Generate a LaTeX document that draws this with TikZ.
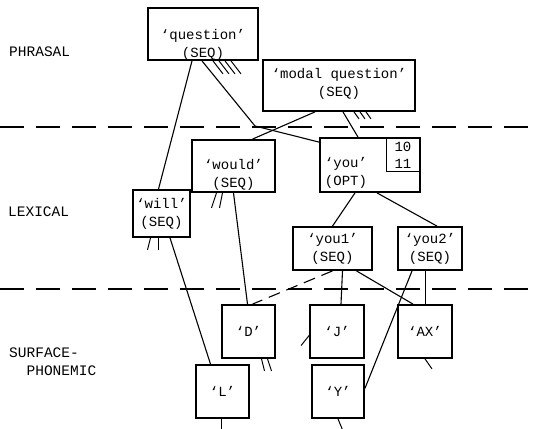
\documentclass[tikz,border=0pt]{standalone}
\usepackage{fontspec}
\newfontfamily\dotfont[Ligatures=TeX]{Liberation Mono}
\usetikzlibrary{positioning}

\begin{document}
\begin{tikzpicture}[
  x=1pt, y=-1pt,
  unit/.style={draw, line width=1.8pt, align=center, inner sep=0pt,
               font=\dotfont\fontsize{14}{18}\selectfont},
  word/.style={align=center, inner sep=0pt, font=\dotfont\fontsize{14}{18}\selectfont},
  link/.style={line width=1.1pt},
  stub/.style={line width=1pt},
  level/.style={line width=1.4pt, dash pattern=on 24pt off 12pt},
  lvl/.style={anchor=west, inner sep=0pt, font=\dotfont\fontsize{14.5}{18}\selectfont}
]
\useasboundingbox (0,0) rectangle (539,429);

% Level boundaries
\coordinate (b1w) at (0,127);
\coordinate (b1e) at (539,127);
\coordinate (b2w) at (0,289);
\coordinate (b2e) at (539,289);
\draw[level] (b1w) -- (b1e);
\draw[level] (b2w) -- (b2e);

\node[lvl] (phrasal) at (9,52) {PHRASAL};
\node[lvl] (lexical) at (8,212) {LEXICAL};
\node[lvl, align=left] (surface) at (9,362) {SURFACE-\\\ \ PHONEMIC};

% Phrasal
\node[unit, minimum width=110pt, minimum height=52pt,
      label={[word, yshift=-11pt]center:{`question'\\(SEQ)}}] (question) at (203,34) {};
\node[unit, minimum width=152pt, minimum height=51pt,
      label={[word, yshift=2pt]center:{`modal question'\\(SEQ)}}] (modal) at (339,85.5) {};

% Lexical
\node[unit, minimum width=83pt, minimum height=52pt,
      label={[word, yshift=-9pt]center:{`would'\\(SEQ)}}] (would) at (233.5,166) {};
\node[unit, minimum width=100pt, minimum height=54pt,
      label={[word, xshift=-24pt, yshift=-8pt]center:{`you'\\(OPT)}}] (you) at (370,165) {};
\node[draw, line width=1.2pt, anchor=north east, minimum width=33pt, minimum height=33pt,
      inner sep=1pt, align=right, font=\dotfont\fontsize{14}{17}\selectfont]
      (youidx) at ([xshift=-0.9pt,yshift=-0.9pt]you.north east) {10\\11};
\node[unit, minimum width=57pt, minimum height=47pt] (will) at (161.5,213.5) {`will'\\(SEQ)};
\node[unit, minimum width=79pt, minimum height=43pt] (you1) at (332.5,248.5) {`you1'\\(SEQ)};
\node[unit, minimum width=64pt, minimum height=43pt] (you2) at (430,248.5) {`you2'\\(SEQ)};

% Surface-phonemic
\node[unit, minimum width=53pt, minimum height=53pt] (D) at (248.5,331.5) {`D'};
\node[unit, minimum width=54pt, minimum height=53pt] (J) at (337,331.5) {`J'};
\node[unit, minimum width=54pt, minimum height=53pt] (AX) at (425,331.5) {`AX'};
\node[unit, minimum width=53pt, minimum height=53pt] (L) at (222.5,391.5) {`L'};
\node[unit, minimum width=52pt, minimum height=53pt] (Y) at (338,391.5) {`Y'};

% Connections
\coordinate (qbend) at (255,126);
\draw[link] ([xshift=-11pt]question.south) -- ([xshift=-3pt]will.north);
\draw[link] ([xshift=-1pt]question.south) -- (qbend) -- ([yshift=-5pt]you.north west);
\draw[link] ([xshift=-24pt]modal.south) -- ([xshift=19pt]would.north);
\draw[link] ([xshift=4pt]modal.south) -- ([xshift=-12pt]you.north);
\draw[link] (would.south) -- ([xshift=-1pt]D.north);
\draw[link] ([xshift=8.5pt]will.south) -- ([xshift=-12pt]L.north);
\draw[link] ([xshift=-15pt]you.south) -- (you1.north);
\draw[link] ([xshift=7pt]you.south) -- ([xshift=7pt]you2.north);
\draw[link, dash pattern=on 12pt off 7pt] (you1.south) -- ([xshift=4pt]D.north);
\draw[link] ([xshift=10pt]you1.south) -- ([xshift=4pt]J.north);
\draw[link] ([xshift=24pt]you1.south) -- ([xshift=-12pt]AX.north);
\draw[link] ([xshift=-18pt]you2.south) -- ([yshift=3pt]Y.east);
\draw[link] ([xshift=-4.5pt]you2.south) -- ([xshift=0.5pt]AX.north);

% Unexpanded links
\foreach \dx in {10,16,22,28}
  \draw[stub] ([xshift=\dx pt]question.south) -- ++(10,13);
\foreach \dx in {15,21,27}
  \draw[stub] ([xshift=\dx pt]modal.south) -- ++(5,7);
\draw[stub] ([xshift=-17pt]would.south) -- ++(-5,15);
\draw[stub] ([xshift=-11pt]would.south) -- ++(-3,15);
\draw[stub] ([xshift=-11pt]will.south) -- ++(-3,12);
\draw[stub] ([xshift=-3.5pt]will.south) -- ++(0,12);
\draw[stub] ([xshift=13pt]D.south) -- ++(3,12);
\draw[stub] ([xshift=19pt]D.south) -- ++(4,12);
\draw[stub] ([yshift=-4pt]J.west) -- ++(-8,10);
\draw[stub] (AX.south) -- ++(7,10);
\draw[stub] ([xshift=-1pt]L.south) -- ++(0,12);
\draw[stub] (Y.south) -- ++(5,12);
\end{tikzpicture}
\end{document}
